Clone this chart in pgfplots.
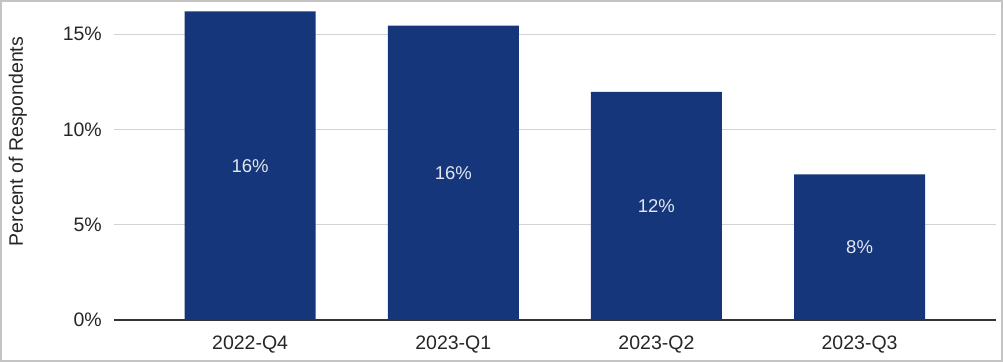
\documentclass[border=0pt]{standalone}
\usepackage{pgfplots}
\pgfplotsset{compat=1.18}
\usepackage{pgfplotstable}
\usepackage{fontspec}
\setmainfont{Liberation Sans}
\definecolor{barblue}{HTML}{15367A}
\definecolor{lbl}{HTML}{E2E6F0}
\definecolor{gridc}{HTML}{D3D3D3}
\definecolor{axc}{HTML}{333333}
\definecolor{frame}{HTML}{C4C4C4}
\pgfplotstableread{
x y label
0 16.20 16\%
1 15.45 16\%
2 11.97 12\%
3 7.65 8\%
}\datatable
\begin{document}
\begin{tikzpicture}
\begin{axis}[
  at={(114bp,42bp)}, anchor=south west,
  scale only axis,
  width=881.7bp, height=314.3bp,
  xmin=-0.67, xmax=3.67,
  ymin=0, ymax=16.5,
  axis x line*=bottom, axis y line*=left,
  y axis line style={draw=none},
  x axis line style={draw=axc, line width=1.3bp},
  major tick length=0pt,
  xtick={0,1,2,3},
  xticklabels={2022-Q4,2023-Q1,2023-Q2,2023-Q3},
  ytick={0,5,10,15},
  yticklabels={0\%,5\%,10\%,15\%},
  ymajorgrids,
  grid style={draw=gridc, line width=1.3bp},
  tick label style={font=\fontsize{19.5bp}{23bp}\selectfont, text=black!85},
  yticklabel style={inner sep=0pt, anchor=east, xshift=-12bp},
  xticklabel style={inner sep=0pt, anchor=north, yshift=-16bp},
  ylabel={Percent of Respondents},
  ylabel style={at={(axis description cs:-0.109,0.568)}, anchor=center, font=\fontsize{19.5bp}{23bp}\selectfont, text=black!85},
]
\addplot[ybar, bar width=0.645, fill=barblue, draw=none] table[x=x, y=y] {\datatable};
\addplot[only marks, mark=none, point meta=explicit symbolic,
  nodes near coords,
  nodes near coords style={anchor=center, text=lbl, font=\fontsize{18.5bp}{22bp}\selectfont}]
  table[x=x, y expr=\thisrow{y}/2, meta=label] {\datatable};
\end{axis}
\draw[frame, line width=2bp] (1bp,1bp) rectangle (1002bp,361bp);
\pgfresetboundingbox
\useasboundingbox (0,0) rectangle (1003bp,362bp);
\end{tikzpicture}
\end{document}
